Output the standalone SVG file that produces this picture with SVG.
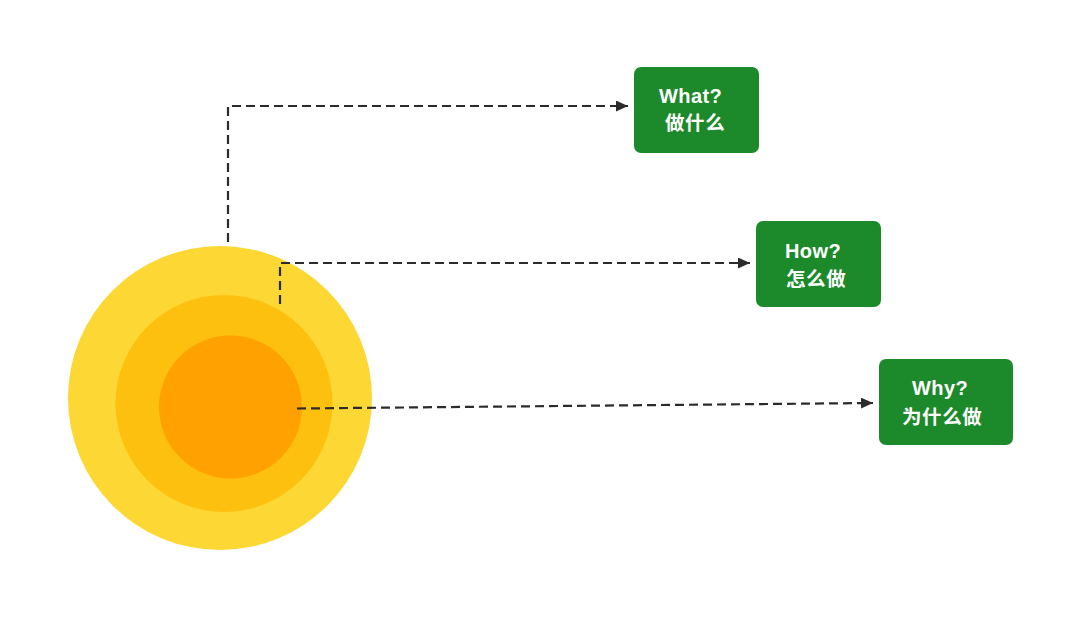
<svg xmlns="http://www.w3.org/2000/svg" width="1080" height="618" viewBox="0 0 1080 618">
<defs>
<marker id="arr" viewBox="0 0 12 11" refX="12" refY="5.5" markerWidth="12" markerHeight="11" markerUnits="userSpaceOnUse" orient="auto">
<path d="M0,0 L12,5.5 L0,11 Z" fill="#2b2b2b"/>
</marker>
<style>
.box{fill:#1c8a2a;}
.en{font-family:"Liberation Sans","Noto Sans",sans-serif;font-weight:bold;font-size:20px;fill:#ffffff;letter-spacing:0.4px;}
.cn{font-family:"Noto Sans CJK SC","Noto Sans",sans-serif;font-weight:bold;font-size:19.5px;fill:#ffffff;letter-spacing:0.6px;}
.con{fill:none;stroke:#2b2b2b;stroke-width:2.2;stroke-dasharray:9 5;}
</style>
</defs>
<rect width="1080" height="618" fill="#ffffff"/>
<g id="core">
<circle cx="220" cy="398" r="152" fill="#fdd835"/>
<circle cx="224" cy="403.5" r="108.5" fill="#fdc00f"/>
<circle cx="230.5" cy="407" r="71.5" fill="#fea101"/>
</g>
<g id="connectors">
<path class="con" d="M228,242 V106 H628" marker-end="url(#arr)"/>
<path class="con" d="M280,304 V263 H750" marker-end="url(#arr)"/>
<path class="con" d="M297,408.5 L873,403" marker-end="url(#arr)"/>
</g>
<g id="what">
<rect class="box" x="634" y="67" width="125" height="86" rx="7"/>
<text class="en" x="659" y="103">What?</text>
<text class="cn" x="665" y="130">做什么</text>
</g>
<g id="how">
<rect class="box" x="756" y="221" width="125" height="86" rx="7"/>
<text class="en" x="785" y="258">How?</text>
<text class="cn" x="786" y="286">怎么做</text>
</g>
<g id="why">
<rect class="box" x="879" y="359" width="134" height="86" rx="7"/>
<text class="en" x="912" y="395">Why?</text>
<text class="cn" x="902" y="424">为什么做</text>
</g>
</svg>
